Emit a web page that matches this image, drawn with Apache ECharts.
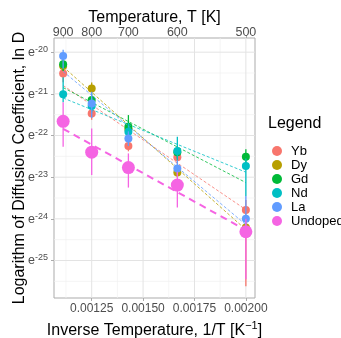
<!DOCTYPE html>
<html><head><meta charset="utf-8">
<script src="https://cdn.jsdelivr.net/npm/echarts@6/dist/echarts.min.js"></script>
<style>html,body{margin:0;padding:0;background:#fff}#c{width:341px;height:338px}</style>
</head><body><div id="c"></div>
<script>
// ---- data ----
const temperatures = [900, 800, 700, 600, 500];
const seriesNames = ['Yb', 'Dy', 'Gd', 'Nd', 'La', 'Undoped'];
const seriesColors = ['#F8766D', '#B79F00', '#00BA38', '#00BFC4', '#619CFF', '#F564E3'];

const lnD_Yb = [-20.51, -21.47, -22.25, -22.52, -23.79];
const lnD_Dy = [-20.33, -20.87, -21.85, -22.89, -24.21];
const lnD_Gd = [-20.29, -21.15, -21.79, -22.40, -22.51];
const lnD_Nd = [-21.01, -21.29, -21.91, -22.37, -22.73];
const lnD_La = [-20.09, -21.23, -22.07, -22.79, -24.00];
const lnD_Undoped = [-21.66, -22.40, -22.77, -23.19, -24.31];

const low_Yb = [-20.72, -21.62, -22.38, -22.68, -25.62];
const high_Yb = [-20.30, -21.35, -22.12, -22.38, -23.55];
const low_Dy = [-20.45, -21.00, -21.95, -23.00, -24.35];
const high_Dy = [-20.20, -20.73, -21.75, -22.78, -24.10];
const low_Gd = [-20.45, -21.30, -21.95, -22.55, -22.70];
const high_Gd = [-20.15, -21.00, -21.51, -22.25, -22.33];
const low_Nd = [-21.20, -21.45, -22.05, -22.60, -23.45];
const high_Nd = [-20.60, -21.10, -21.70, -22.03, -22.55];
const low_La = [-20.40, -21.58, -22.25, -22.95, -24.20];
const high_La = [-19.94, -20.95, -21.90, -22.60, -23.45];
const low_Undoped = [-22.27, -22.95, -23.25, -23.73, -25.45];
const high_Undoped = [-21.20, -21.83, -22.43, -22.87, -24.00];

// dashed trend lines: value at 900 K and at 500 K
const fitStart = [-20.80, -20.35, -20.85, -21.10, -20.46, -21.84];
const fitEnd = [-23.78, -24.26, -23.13, -22.88, -24.14, -24.27];

const bottomTicks = [0.00125, 0.0015, 0.00175, 0.002];
const bottomMinor = [0.001125, 0.001375, 0.001625, 0.001875];
const yTicks = [-25, -24, -23, -22, -21, -20];
const yMinor = [-25.5, -24.5, -23.5, -22.5, -21.5, -20.5];

// ---- build chart ----
const values = [lnD_Yb, lnD_Dy, lnD_Gd, lnD_Nd, lnD_La, lnD_Undoped];
const lows = [low_Yb, low_Dy, low_Gd, low_Nd, low_La, low_Undoped];
const highs = [high_Yb, high_Dy, high_Gd, high_Nd, high_La, high_Undoped];
const invT = temperatures.map(t => 1 / t);
const pad = 0.05 * (invT[invT.length - 1] - invT[0]);
const xMin = invT[0] - pad, xMax = invT[invT.length - 1] + pad;
const yMin = -25.90, yMax = -19.66;
const FONT = 'Liberation Sans';

const series = [];
const gridData = [];
bottomMinor.forEach(v => gridData.push([v, 0, 0]));
yMinor.forEach(v => gridData.push([v, 1, 0]));
bottomTicks.forEach(v => gridData.push([v, 0, 1]));
yTicks.forEach(v => gridData.push([v, 1, 1]));
series.push({
  type: 'custom', name: 'grid', silent: true, z: 0, clip: true,
  data: gridData,
  renderItem: function (params, api) {
    const v = api.value(0), horiz = api.value(1), major = api.value(2);
    let p1, p2;
    if (horiz) { p1 = api.coord([xMin, v]); p2 = api.coord([xMax, v]); }
    else { p1 = api.coord([v, yMin]); p2 = api.coord([v, yMax]); }
    return { type: 'line', shape: { x1: p1[0], y1: p1[1], x2: p2[0], y2: p2[1] },
      style: { stroke: major ? '#E3E3E3' : '#F1F1F1', lineWidth: major ? 1 : 0.7 } };
  }
});

seriesNames.forEach((name, i) => {
  const col = seriesColors[i];
  const und = name === 'Undoped';
  series.push({
    type: 'custom', name: name + ' err', silent: true, z: 2 + i * 3,
    data: invT.map((x, k) => [x, lows[i][k], highs[i][k]]),
    renderItem: function (params, api) {
      const a = api.coord([api.value(0), api.value(1)]);
      const b = api.coord([api.value(0), api.value(2)]);
      return { type: 'line', shape: { x1: a[0], y1: a[1], x2: b[0], y2: b[1] },
        style: { stroke: col, lineWidth: 1.3 } };
    }
  });
  series.push({
    type: 'line', name: name + ' fit', silent: true, z: 3 + i * 3,
    symbol: 'none', animation: false,
    data: [[invT[0], fitStart[i]], [invT[invT.length - 1], fitEnd[i]]],
    lineStyle: { color: col, width: und ? 2 : 0.8, type: und ? [7, 5] : [3, 2] }
  });
  series.push({
    type: 'scatter', name: name, z: 4 + i * 3,
    symbol: 'circle', symbolSize: und ? 13 : 8,
    itemStyle: { color: col, opacity: 1 },
    data: invT.map((x, k) => [x, values[i][k]])
  });
});

const chart = echarts.init(document.getElementById('c'), null, { renderer: 'canvas' });
chart.setOption({
  animation: false,
  backgroundColor: '#fff',
  textStyle: { fontFamily: FONT },
  grid: { left: 54, top: 38, width: 201, height: 260, show: true, borderColor: '#ABABAB', borderWidth: 1,
    backgroundColor: 'transparent', containLabel: false, outerBoundsMode: 'none' },
  legend: {
    orient: 'vertical', left: 267, top: 139, itemWidth: 18, itemHeight: 10, itemGap: 0,
    icon: 'circle',
    textStyle: { fontFamily: FONT, fontSize: 13, color: '#000', lineHeight: 14, padding: [0, 0, 0, 0] },
    data: seriesNames.map((n, i) => ({ name: n, itemStyle: { color: seriesColors[i] } })),
    selectedMode: false
  },
  graphic: [{ type: 'text', left: 268, top: 116, style: { text: 'Legend', fontFamily: FONT, fontSize: 16, fill: '#000' } }],
  xAxis: [{
    type: 'value', position: 'bottom', min: xMin, max: xMax,
    axisLine: { show: false },
    axisTick: { show: true, customValues: bottomTicks, length: 3, lineStyle: { color: '#ABABAB' } },
    axisLabel: { customValues: bottomTicks, formatter: v => v.toFixed(5), color: '#4D4D4D', fontSize: 12, margin: 5, fontFamily: FONT },
    splitLine: { show: false },
    name: '{a|Inverse Temperature, 1/T [K}{s|−1}{a|]}', nameLocation: 'middle', nameGap: 22, nameMoveOverlap: false,
    nameTextStyle: { rich: {
      a: { fontFamily: FONT, fontSize: 16, color: '#000', verticalAlign: 'bottom', lineHeight: 19 },
      s: { fontFamily: FONT, fontSize: 11, color: '#000', verticalAlign: 'top', lineHeight: 11 } } }
  }, {
    type: 'value', position: 'top', min: xMin, max: xMax,
    axisLine: { show: false },
    axisTick: { show: true, customValues: invT, length: 3, lineStyle: { color: '#ABABAB' } },
    axisLabel: { customValues: invT, formatter: v => String(Math.round(1 / v)), color: '#4D4D4D', fontSize: 12.5, margin: -1, fontFamily: FONT },
    splitLine: { show: false },
    name: 'Temperature, T [K]', nameLocation: 'middle', nameGap: 12, nameMoveOverlap: false,
    nameTextStyle: { fontFamily: FONT, fontSize: 16, color: '#000' }
  }],
  yAxis: [{
    type: 'value', min: yMin, max: yMax,
    axisLine: { show: false },
    axisTick: { show: true, customValues: yTicks, length: 3, lineStyle: { color: '#ABABAB' } },
    axisLabel: {
      customValues: yTicks, margin: 6,
      formatter: v => '{e|e}{s|' + Math.round(v) + '}',
      rich: {
        e: { fontFamily: FONT, fontSize: 12.5, color: '#4D4D4D', verticalAlign: 'bottom', lineHeight: 14 },
        s: { fontFamily: FONT, fontSize: 9, color: '#4D4D4D', verticalAlign: 'top', lineHeight: 9 }
      }
    },
    splitLine: { show: false },
    name: 'Logarithm of Diffusion Coefficient, ln D', nameLocation: 'middle', nameGap: 26, nameMoveOverlap: false,
    nameTextStyle: { fontFamily: FONT, fontSize: 16, color: '#000' }
  }],
  series: series
});
</script></body></html>
